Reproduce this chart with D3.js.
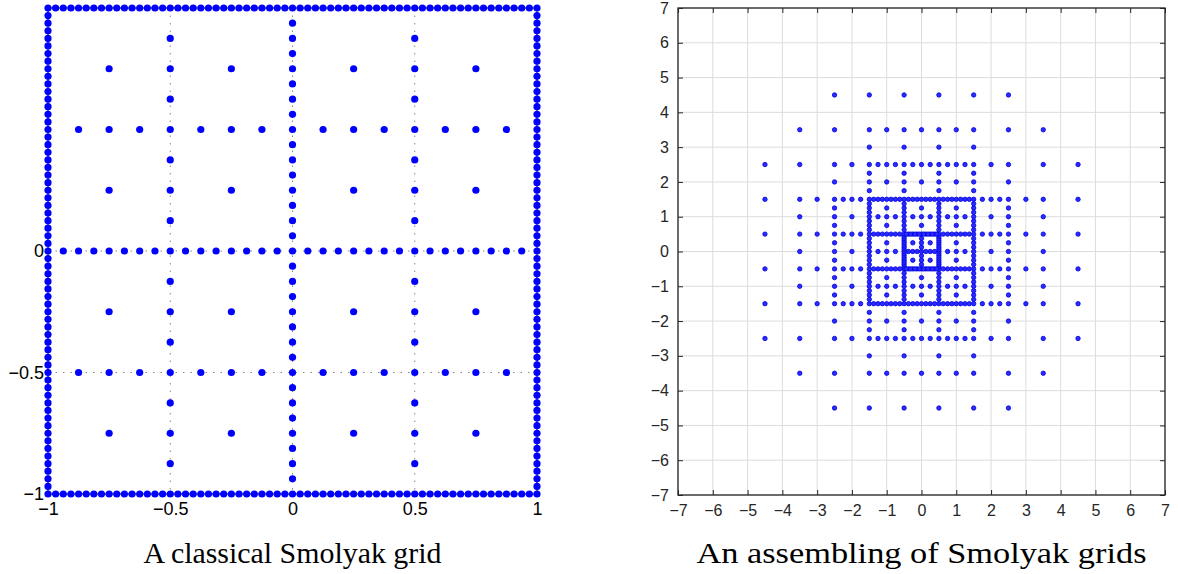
<!DOCTYPE html>
<html>
<head>
<meta charset="utf-8">
<script src="https://cdn.jsdelivr.net/npm/d3@7"></script>
<style>
  body { margin: 0; background: #fff; }
  svg { display: block; }
</style>
</head>
<body>
<div id="chart"></div>
<script>
// left panel: classical Smolyak grid, level read from the boundary spacing (1/32)
const leftLevel = 6;
const leftXTicks = [-1, -0.5, 0, 0.5, 1];
const leftYTicks = [-1, -0.5, 0];
const leftGridX = [-0.5, 0, 0.5];
const leftGridY = [-0.5, 0];

// right panel: cells [i, j, level] of the first quadrant, mirrored to the other three
const rightCells = [
  [0, 0, 4],
  [1, 0, 3], [0, 1, 3], [1, 1, 3],
  [2, 0, 2], [0, 2, 2], [2, 1, 2], [1, 2, 2],
  [3, 0, 1], [0, 3, 1], [3, 1, 1], [1, 3, 1], [2, 2, 1],
  [4, 0, 0], [0, 4, 0], [4, 1, 0], [1, 4, 0], [3, 2, 0], [2, 3, 0],
  [3, 3, 0], [4, 2, 0], [2, 4, 0]
];
const rightTicks = [-7, -6, -5, -4, -3, -2, -1, 0, 1, 2, 3, 4, 5, 6, 7];

const titles = ["A classical Smolyak grid", "An assembling of Smolyak grids"];

const W = 1178, H = 574;
const svg = d3.select("#chart").append("svg")
    .attr("width", W)
    .attr("height", H);

// 1D nested equidistant nodes on [-1,1]
function nodes1d(a) {
    if (a === 0) return [-1, 1];
    const n = Math.pow(2, a - 1);
    return d3.range(2 * n + 1).map(k => -1 + k / n);
}

function smolyak(level) {
    const pts = [];
    for (let a = 0; a <= level; a++) {
        const xs = nodes1d(a), ys = nodes1d(level - a);
        xs.forEach(x => ys.forEach(y => pts.push([x, y])));
    }
    return pts;
}

function dedupe(pts) {
    const seen = new Map();
    pts.forEach(p => {
        const k = p[0].toFixed(5) + "," + p[1].toFixed(5);
        if (!seen.has(k)) seen.set(k, p);
    });
    return Array.from(seen.values());
}

// ---------- left panel ----------
const L = {x0: 48, x1: 537, y0: 8, y1: 494};
const xl = d3.scaleLinear().domain([-1, 1]).range([L.x0, L.x1]);
const yl = d3.scaleLinear().domain([-1, 1]).range([L.y1, L.y0]);
const gl = svg.append("g");

gl.selectAll(".gx").data(leftGridX).enter().append("line")
    .attr("x1", d => xl(d)).attr("x2", d => xl(d))
    .attr("y1", L.y0).attr("y2", L.y1)
    .attr("stroke", "#888").attr("stroke-width", 1)
    .attr("stroke-dasharray", "1.5,6");
gl.selectAll(".gy").data(leftGridY).enter().append("line")
    .attr("y1", d => yl(d)).attr("y2", d => yl(d))
    .attr("x1", L.x0).attr("x2", L.x1)
    .attr("stroke", "#888").attr("stroke-width", 1)
    .attr("stroke-dasharray", "1.5,6");

gl.append("rect")
    .attr("x", L.x0).attr("y", L.y0)
    .attr("width", L.x1 - L.x0).attr("height", L.y1 - L.y0)
    .attr("fill", "none").attr("stroke", "#000").attr("stroke-width", 1);

const fmtMinus = d => (d < 0 ? "\u2212" : "") + Math.abs(d);

gl.append("g")
    .attr("transform", `translate(0,${L.y1})`)
    .call(d3.axisBottom(xl).tickValues(leftXTicks).tickSize(0).tickPadding(8).tickFormat(fmtMinus))
    .call(g => g.select(".domain").remove())
    .selectAll("text")
    .attr("font-family", "'Liberation Sans', Arial, sans-serif")
    .attr("font-size", 18).attr("fill", "#000");

gl.append("g")
    .attr("transform", `translate(${L.x0},0)`)
    .call(d3.axisLeft(yl).tickValues(leftYTicks).tickSize(0).tickPadding(4).tickFormat(fmtMinus))
    .call(g => g.select(".domain").remove())
    .selectAll("text")
    .attr("font-family", "'Liberation Sans', Arial, sans-serif")
    .attr("font-size", 18).attr("fill", "#000");

const leftPts = dedupe(smolyak(leftLevel));
gl.selectAll(".pt").data(leftPts).enter().append("circle")
    .attr("cx", d => xl(d[0]))
    .attr("cy", d => yl(d[1]))
    .attr("r", 3.6)
    .attr("fill", "#0000ff");

// ---------- right panel ----------
const R = {x0: 678, x1: 1165, y0: 8, y1: 495};
const xr = d3.scaleLinear().domain([-7, 7]).range([R.x0, R.x1]);
const yr = d3.scaleLinear().domain([-7, 7]).range([R.y1, R.y0]);
const gr = svg.append("g");

gr.selectAll(".gx").data(rightTicks).enter().append("line")
    .attr("x1", d => xr(d)).attr("x2", d => xr(d))
    .attr("y1", R.y0).attr("y2", R.y1)
    .attr("stroke", "#dcdcdc").attr("stroke-width", 1);
gr.selectAll(".gy").data(rightTicks).enter().append("line")
    .attr("y1", d => yr(d)).attr("y2", d => yr(d))
    .attr("x1", R.x0).attr("x2", R.x1)
    .attr("stroke", "#dcdcdc").attr("stroke-width", 1);

const tickFont = g => g.selectAll("text")
    .attr("font-family", "'Liberation Sans', Arial, sans-serif")
    .attr("font-size", 16).attr("fill", "#262626");

gr.append("g").attr("transform", `translate(0,${R.y1})`)
    .call(d3.axisBottom(xr).tickValues(rightTicks).tickSize(-5).tickPadding(10).tickFormat(d3.format("d")))
    .call(g => g.select(".domain").remove())
    .call(g => g.selectAll("line").attr("stroke", "#262626"))
    .call(tickFont);
gr.append("g").attr("transform", `translate(0,${R.y0})`)
    .call(d3.axisTop(xr).tickValues(rightTicks).tickSize(-5).tickFormat(""))
    .call(g => g.select(".domain").remove())
    .call(g => g.selectAll("line").attr("stroke", "#262626"));
gr.append("g").attr("transform", `translate(${R.x0},0)`)
    .call(d3.axisLeft(yr).tickValues(rightTicks).tickSize(-5).tickPadding(9).tickFormat(d3.format("d")))
    .call(g => g.select(".domain").remove())
    .call(g => g.selectAll("line").attr("stroke", "#262626"))
    .call(tickFont);
gr.append("g").attr("transform", `translate(${R.x1},0)`)
    .call(d3.axisRight(yr).tickValues(rightTicks).tickSize(-5).tickFormat(""))
    .call(g => g.select(".domain").remove())
    .call(g => g.selectAll("line").attr("stroke", "#262626"));

gr.append("rect")
    .attr("x", R.x0).attr("y", R.y0)
    .attr("width", R.x1 - R.x0).attr("height", R.y1 - R.y0)
    .attr("fill", "none").attr("stroke", "#262626").attr("stroke-width", 1.3);

let rightPts = [];
rightCells.forEach(([i, j, lev]) => {
    const local = smolyak(lev);
    [1, -1].forEach(sx => [1, -1].forEach(sy => {
        local.forEach(([u, v]) => rightPts.push([sx * i + 0.5 * u, sy * j + 0.5 * v]));
    }));
});
rightPts = dedupe(rightPts);

gr.selectAll(".pt").data(rightPts).enter().append("circle")
    .attr("cx", d => xr(d[0]))
    .attr("cy", d => yr(d[1]))
    .attr("r", 2.2)
    .attr("fill", "#2b2bff")
    .attr("stroke", "#0000e0")
    .attr("stroke-width", 0.8);

// ---------- titles ----------
svg.selectAll(".title").data(titles).enter().append("text")
    .attr("x", (d, i) => i === 0 ? (L.x0 + L.x1) / 2 : (R.x0 + R.x1) / 2)
    .attr("y", 563)
    .attr("text-anchor", "middle")
    .attr("font-family", "'Liberation Serif', 'Times New Roman', serif")
    .attr("font-size", 29)
    .attr("textLength", (d, i) => i === 0 ? 298 : 450)
    .attr("lengthAdjust", "spacingAndGlyphs")
    .attr("fill", "#000")
    .text(d => d);
</script>
</body>
</html>
